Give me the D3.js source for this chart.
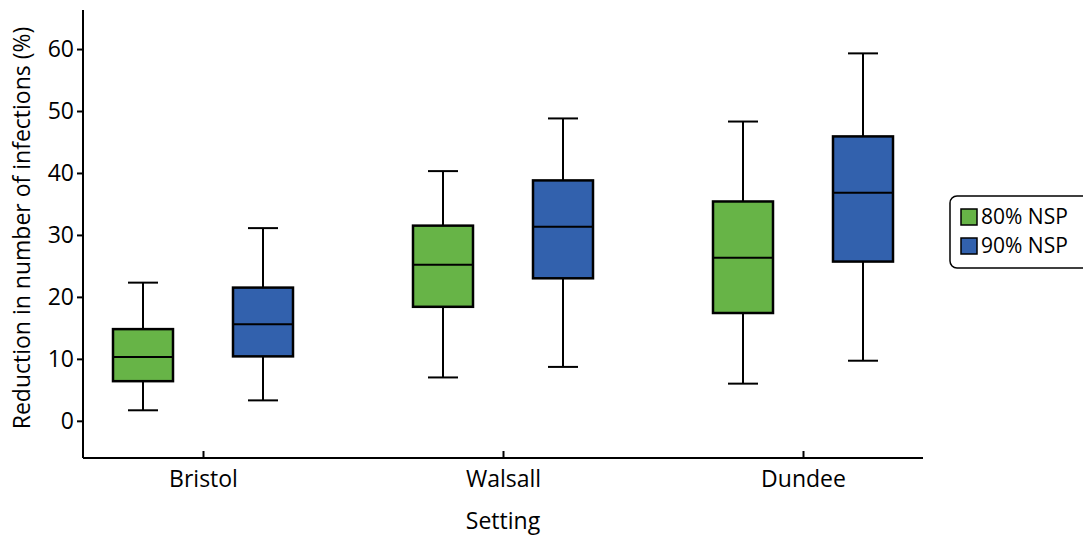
<!DOCTYPE html>
<html><head><meta charset="utf-8">
<script src="https://cdn.jsdelivr.net/npm/d3@7"></script>
<style>body{margin:0;background:#fff}svg{display:block}text{font-family:"Open Sans",sans-serif;fill:#000}</style>
</head><body>
<svg id="c" width="1083" height="535"></svg>
<script>
const settings = ["Bristol", "Walsall", "Dundee"];
const seriesNames = ["80% NSP", "90% NSP"];
const seriesColors = ["#67b447", "#3261ad"];
// [whiskerLow, Q1, median, Q3, whiskerHigh] per setting
const nsp80 = [[1.7, 6.4, 10.3, 14.8, 22.3], [7.0, 18.4, 25.2, 31.5, 40.3], [6.0, 17.4, 26.3, 35.4, 48.3]];
const nsp90 = [[3.3, 10.4, 15.6, 21.5, 31.1], [8.7, 23.0, 31.3, 38.8, 48.8], [9.7, 25.7, 36.8, 45.9, 59.3]];
const yTicks = [0, 10, 20, 30, 40, 50, 60];
const yTitle = "Reduction in number of infections (%)";
const xTitle = "Setting";

const svg = d3.select("#c");
const m = {l: 83, r: 160, t: 10, b: 77};
const W = 1083, H = 535;
const x = d3.scalePoint().domain(settings).range([m.l, W - m.r]).padding(0.4);
const y = d3.scaleLinear().domain([-6, 66.3]).range([H - m.b, m.t]);
const off = d3.scalePoint().domain(seriesNames).range([-60, 60]);
const bw = 60, cap = 30;

const fs = 23;
// axes
const ya = svg.append("g").attr("transform", `translate(${m.l},0)`)
  .call(d3.axisLeft(y).tickValues(yTicks).tickSize(6).tickPadding(3).tickFormat(d3.format("d")));
const xa = svg.append("g").attr("transform", `translate(0,${H - m.b})`)
  .call(d3.axisBottom(x).tickSize(-7).tickPadding(13));
[ya, xa].forEach(g => {
  g.select(".domain").attr("stroke", "#000").attr("stroke-width", 2);
  g.selectAll(".tick line").attr("stroke", "#000").attr("stroke-width", 2);
  g.selectAll("text").style("font-size", fs + "px").attr("fill", "#000")
    .style("font-family", '"Open Sans",sans-serif');
});
xa.select(".domain").attr("d", `M${m.l},0H${W - m.r}`);
ya.select(".domain").attr("d", `M0,${y(-6)}V${m.t}`);
xa.selectAll(".tick text").attr("dy", "0.71em");

svg.append("text").attr("transform", `translate(30,${(y(-6)+m.t)/2 - 6}) rotate(-90)`)
  .attr("text-anchor", "middle").style("font-size", fs + "px").text(yTitle);
svg.append("text").attr("x", x("Walsall")).attr("y", 529)
  .attr("text-anchor", "middle").style("font-size", fs + "px").text(xTitle);

// boxes
const series = [nsp80, nsp90];
series.forEach((vals, si) => {
  const g = svg.append("g");
  vals.forEach((v, i) => {
    const cx = x(settings[i]) + off(seriesNames[si]);
    const [lo, q1, med, q3, hi] = v;
    g.append("line").attr("x1", cx).attr("x2", cx).attr("y1", y(hi)).attr("y2", y(lo))
      .attr("stroke", "#000").attr("stroke-width", 2);
    [lo, hi].forEach(w => g.append("line").attr("x1", cx - cap/2).attr("x2", cx + cap/2)
      .attr("y1", y(w)).attr("y2", y(w)).attr("stroke", "#000").attr("stroke-width", 2));
    g.append("rect").attr("x", cx - bw/2).attr("width", bw).attr("y", y(q3)).attr("height", y(q1) - y(q3))
      .attr("fill", seriesColors[si]).attr("stroke", "#000").attr("stroke-width", 2.5);
    g.append("line").attr("x1", cx - bw/2).attr("x2", cx + bw/2).attr("y1", y(med)).attr("y2", y(med))
      .attr("stroke", "#000").attr("stroke-width", 2);
  });
});

// legend
const lfs = 21;
const lg = svg.append("g");
lg.append("rect").attr("x", 950).attr("y", 196).attr("width", 150).attr("height", 72).attr("rx", 7)
  .attr("fill", "#fff").attr("stroke", "#000").attr("stroke-width", 1.5);
seriesNames.forEach((n, i) => {
  const yy = 217 + i * 29;
  lg.append("rect").attr("x", 961).attr("y", yy - 8).attr("width", 16).attr("height", 16)
    .attr("fill", seriesColors[i]).attr("stroke", "#000").attr("stroke-width", 1.5);
  lg.append("text").attr("x", 981).attr("y", yy).attr("dy", "0.35em").style("font-size", lfs + "px").text(n);
});
</script></body></html>
